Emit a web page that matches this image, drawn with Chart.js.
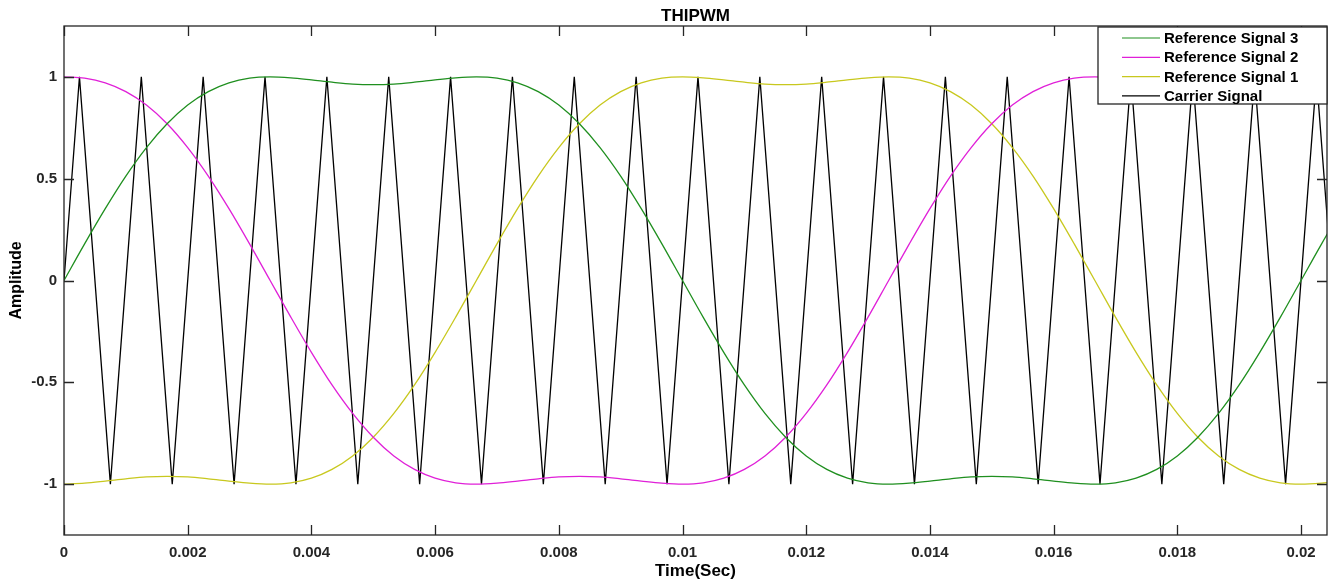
<!DOCTYPE html>
<html>
<head>
<meta charset="utf-8">
<script src="https://cdn.jsdelivr.net/npm/chart.js@4.4.1/dist/chart.umd.min.js"></script>
<style>
  html, body { margin: 0; padding: 0; background: #fff; }
  #wrap { width: 1330px; height: 584px; }
</style>
</head>
<body>
<div id="wrap"><canvas id="pwmChart" width="1330" height="584"></canvas></div>
<script>
// sample times (s) for the three reference signals
var refTime = [
    0, 0.000333, 0.000667, 0.001, 0.001333, 0.001667, 0.002, 0.002333, 0.002667, 0.003,
    0.003333, 0.003667, 0.004, 0.004333, 0.004667, 0.005, 0.005333, 0.005667, 0.006, 0.006333,
    0.006667, 0.007, 0.007333, 0.007667, 0.008, 0.008333, 0.008667, 0.009, 0.009333, 0.009667,
    0.01, 0.010333, 0.010667, 0.011, 0.011333, 0.011667, 0.012, 0.012333, 0.012667, 0.013,
    0.013333, 0.013667, 0.014, 0.014333, 0.014667, 0.015, 0.015333, 0.015667, 0.016, 0.016333,
    0.016667, 0.017, 0.017333, 0.017667, 0.018, 0.018333, 0.018667, 0.019, 0.019333, 0.019667,
    0.02, 0.020333, 0.020667
];

var refSignal3 = [
    0, 0.180, 0.353, 0.513, 0.653, 0.770, 0.862, 0.928, 0.971, 0.994,
    1.000, 0.995, 0.985, 0.974, 0.965, 0.962, 0.965, 0.974, 0.985, 0.995,
    1.000, 0.994, 0.971, 0.928, 0.862, 0.770, 0.653, 0.513, 0.353, 0.180,
    0, -0.180, -0.353, -0.513, -0.653, -0.770, -0.862, -0.928, -0.971, -0.994,
    -1.000, -0.995, -0.985, -0.974, -0.965, -0.962, -0.965, -0.974, -0.985, -0.995,
    -1.000, -0.994, -0.971, -0.928, -0.862, -0.770, -0.653, -0.513, -0.353, -0.180,
    0, 0.180, 0.353
];

var refSignal2 = [
    1.000, 0.994, 0.971, 0.928, 0.862, 0.770, 0.653, 0.513, 0.353, 0.180,
    0, -0.180, -0.353, -0.513, -0.653, -0.770, -0.862, -0.928, -0.971, -0.994,
    -1.000, -0.995, -0.985, -0.974, -0.965, -0.962, -0.965, -0.974, -0.985, -0.995,
    -1.000, -0.994, -0.971, -0.928, -0.862, -0.770, -0.653, -0.513, -0.353, -0.180,
    0, 0.180, 0.353, 0.513, 0.653, 0.770, 0.862, 0.928, 0.971, 0.994,
    1.000, 0.995, 0.985, 0.974, 0.965, 0.962, 0.965, 0.974, 0.985, 0.995,
    1.000, 0.994, 0.971
];

var refSignal1 = [
    -1.000, -0.995, -0.985, -0.974, -0.965, -0.962, -0.965, -0.974, -0.985, -0.995,
    -1.000, -0.994, -0.971, -0.928, -0.862, -0.770, -0.653, -0.513, -0.353, -0.180,
    0, 0.180, 0.353, 0.513, 0.653, 0.770, 0.862, 0.928, 0.971, 0.994,
    1.000, 0.995, 0.985, 0.974, 0.965, 0.962, 0.965, 0.974, 0.985, 0.995,
    1.000, 0.994, 0.971, 0.928, 0.862, 0.770, 0.653, 0.513, 0.353, 0.180,
    0, -0.180, -0.353, -0.513, -0.653, -0.770, -0.862, -0.928, -0.971, -0.994,
    -1.000, -0.995, -0.985
];

// triangle carrier: corner times and values
var carrierTime = [
    0, 0.00025, 0.00075, 0.00125, 0.00175, 0.00225, 0.00275, 0.00325, 0.00375, 0.00425,
    0.00475, 0.00525, 0.00575, 0.00625, 0.00675, 0.00725, 0.00775, 0.00825, 0.00875, 0.00925,
    0.00975, 0.01025, 0.01075, 0.01125, 0.01175, 0.01225, 0.01275, 0.01325, 0.01375, 0.01425,
    0.01475, 0.01525, 0.01575, 0.01625, 0.01675, 0.01725, 0.01775, 0.01825, 0.01875, 0.01925,
    0.01975, 0.02025, 0.02075
];
var carrierValue = [
    0, 1, -1, 1, -1, 1, -1, 1, -1, 1,
    -1, 1, -1, 1, -1, 1, -1, 1, -1, 1,
    -1, 1, -1, 1, -1, 1, -1, 1, -1, 1,
    -1, 1, -1, 1, -1, 1, -1, 1, -1, 1,
    -1, 1, -1
];

var seriesNames = ['Reference Signal 3', 'Reference Signal 2', 'Reference Signal 1', 'Carrier Signal'];
var seriesColors = ['#1f8f1f', '#e020d8', '#c8c81e', '#000000'];

// tick labels
var xTicks = [0, 0.002, 0.004, 0.006, 0.008, 0.01, 0.012, 0.014, 0.016, 0.018, 0.02];
var yTicks = [-1, -0.5, 0, 0.5, 1];

var xMax = 0.02042;
var yMin = -1.25, yMax = 1.25;

var axisColor = '#262626';
var fontFamily = 'Arial, "Liberation Sans", Helvetica, sans-serif';

function toPoints(xs, ys) {
    return ys.map(function (v, i) { return { x: xs[i], y: v }; });
}

// frame, inward tick marks, title, axis titles and legend box
var matlabFrame = {
    id: 'matlabFrame',
    afterDraw: function (chart) {
        let ctx = chart.ctx;
        let a = chart.chartArea;
        let xs = chart.scales.x, ys = chart.scales.y;
        let tl = 10;

        ctx.save();
        ctx.strokeStyle = axisColor;
        ctx.lineWidth = 1.3;
        ctx.beginPath();
        xs.ticks.forEach(function (t) {
            let px = Math.round(xs.getPixelForValue(t.value)) + 0.5;
            ctx.moveTo(px, a.bottom); ctx.lineTo(px, a.bottom - tl);
            ctx.moveTo(px, a.top); ctx.lineTo(px, a.top + tl);
        });
        ys.ticks.forEach(function (t) {
            let py = Math.round(ys.getPixelForValue(t.value)) + 0.5;
            ctx.moveTo(a.left, py); ctx.lineTo(a.left + tl, py);
            ctx.moveTo(a.right, py); ctx.lineTo(a.right - tl, py);
        });
        ctx.stroke();
        ctx.strokeRect(a.left, a.top, a.right - a.left, a.bottom - a.top);

        // title
        ctx.fillStyle = '#000';
        ctx.font = 'bold 17px ' + fontFamily;
        ctx.textAlign = 'center';
        ctx.textBaseline = 'middle';
        ctx.fillText('THIPWM', (a.left + a.right) / 2, 16);

        // axis titles
        ctx.fillText('Time(Sec)', (a.left + a.right) / 2, 571);
        ctx.save();
        ctx.font = 'bold 16px ' + fontFamily;
        ctx.translate(17, (a.top + a.bottom) / 2);
        ctx.rotate(-Math.PI / 2);
        ctx.fillText('Amplitude', 0, 0);
        ctx.restore();

        // legend
        let bx = 1098, by = 27, bw = a.right - 1098, bh = 77;
        ctx.fillStyle = '#fff';
        ctx.fillRect(bx, by, bw, bh);
        ctx.strokeStyle = axisColor;
        ctx.lineWidth = 1.3;
        ctx.strokeRect(bx, by, bw, bh);
        ctx.font = 'bold 15px ' + fontFamily;
        ctx.textAlign = 'left';
        chart.data.datasets.forEach(function (ds, i) {
            let yy = 38 + i * 19.3;
            ctx.strokeStyle = ds.borderColor;
            ctx.lineWidth = 1.2;
            ctx.beginPath();
            ctx.moveTo(1122, yy);
            ctx.lineTo(1160, yy);
            ctx.stroke();
            ctx.fillStyle = '#000';
            ctx.fillText(ds.label, 1164, yy + 1);
        });
        ctx.restore();
    }
};

function drawChart(canvasId) {
    let canvas = document.getElementById(canvasId);
    if (!canvas)
        return;

    let refSeries = [refSignal3, refSignal2, refSignal1];
    let datasets = refSeries.map(function (vals, i) {
        return {
            label: seriesNames[i],
            data: toPoints(refTime, vals),
            borderColor: seriesColors[i],
            borderWidth: 1.3,
            cubicInterpolationMode: 'monotone',
            order: 1
        };
    });
    datasets.push({
        label: seriesNames[3],
        data: toPoints(carrierTime, carrierValue),
        borderColor: seriesColors[3],
        borderWidth: 1.3,
        tension: 0,
        order: 2
    });

    new Chart(canvas, {
        type: 'line',
        data: { datasets: datasets },
        options: {
            responsive: false,
            animation: false,
            devicePixelRatio: 1,
            layout: { padding: { top: 26, right: 3, left: 0, bottom: 0 } },
            datasets: {
                line: { pointRadius: 0, pointHoverRadius: 0, fill: false }
            },
            plugins: {
                legend: { display: false },
                title: { display: false },
                tooltip: { enabled: false }
            },
            scales: {
                x: {
                    type: 'linear',
                    min: 0,
                    max: xMax,
                    grid: { display: false, drawTicks: false },
                    border: { display: false },
                    afterBuildTicks: function (scale) {
                        scale.ticks = xTicks.map(function (v) { return { value: v }; });
                    },
                    ticks: {
                        autoSkip: false,
                        maxRotation: 0,
                        padding: 9,
                        color: axisColor,
                        font: { family: fontFamily, size: 15, weight: 'bold' },
                        callback: function (v) { return String(+v.toFixed(4)); }
                    },
                    afterFit: function (scale) { scale.height = 49; }
                },
                y: {
                    type: 'linear',
                    min: yMin,
                    max: yMax,
                    grid: { display: false, drawTicks: false },
                    border: { display: false },
                    afterBuildTicks: function (scale) {
                        scale.ticks = yTicks.map(function (v) { return { value: v }; });
                    },
                    ticks: {
                        autoSkip: false,
                        padding: 7,
                        color: axisColor,
                        font: { family: fontFamily, size: 15, weight: 'bold' },
                        callback: function (v) { return String(+v.toFixed(2)); }
                    },
                    afterFit: function (scale) { scale.width = 64; }
                }
            }
        },
        plugins: [matlabFrame]
    });
}

drawChart('pwmChart');
</script>
</body>
</html>
